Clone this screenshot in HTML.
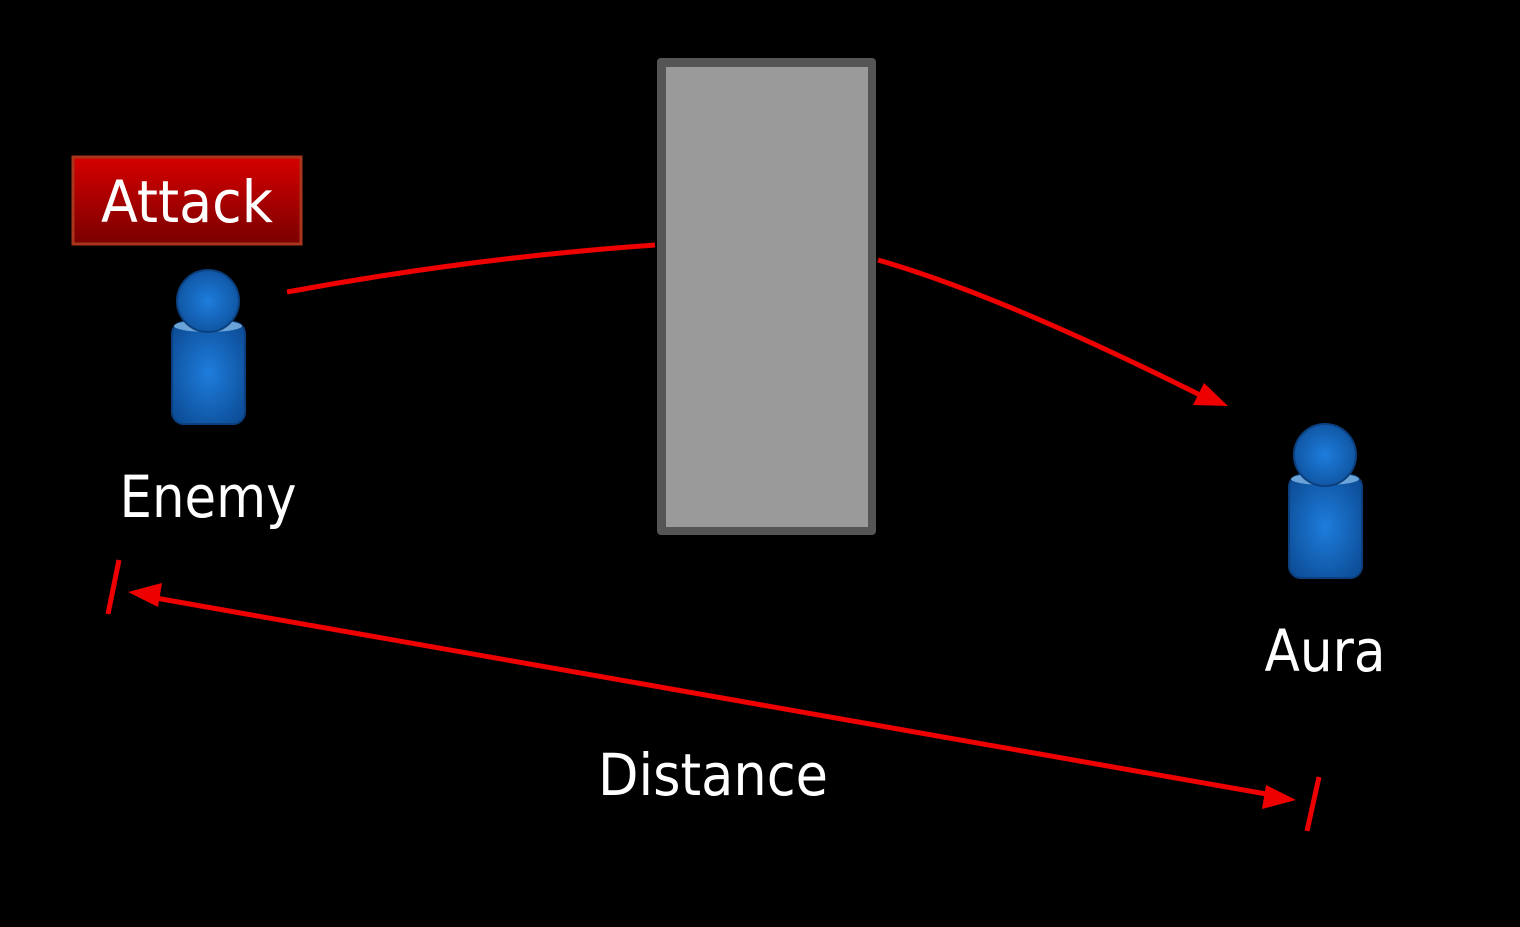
<!DOCTYPE html>
<html><head><meta charset="utf-8"><style>
html,body{margin:0;padding:0;background:#000;}
svg{display:block;}
text{font-family:"DejaVu Sans","Liberation Sans",sans-serif;fill:#fff;}
</style></head><body>
<svg width="1520" height="927" viewBox="0 0 1520 927">
<defs>
<radialGradient id="bl" cx="50%" cy="50%" r="60%"><stop offset="0" stop-color="#1e7ddc"/><stop offset="1" stop-color="#0d4f9a"/></radialGradient>
<linearGradient id="rd" x1="0" y1="0" x2="0" y2="1"><stop offset="0" stop-color="#d60000"/><stop offset="1" stop-color="#7a0000"/></linearGradient>
</defs>
<rect x="0" y="0" width="1520" height="927" fill="#000"/>
<g>
<rect x="73" y="157" width="228" height="87" fill="url(#rd)" stroke="#a8351c" stroke-width="3"/>
<text x="187" y="222" font-size="58" text-anchor="middle" textLength="172" lengthAdjust="spacingAndGlyphs">Attack</text>
</g>
<g>
<rect x="657" y="58" width="219" height="477" rx="4" fill="#555"/>
<rect x="666" y="67" width="202" height="460" fill="#9a9a9a"/>
</g>
<g>
<rect x="172" y="322" width="73" height="102" rx="12" fill="url(#bl)" stroke="#0b3f7e" stroke-width="2"/>
<ellipse cx="208" cy="326" rx="34" ry="6" fill="#6aa3d8"/>
<circle cx="208" cy="301" r="31" fill="url(#bl)" stroke="#0b3f7e" stroke-width="2"/>
</g>
<text x="208" y="517" font-size="58" text-anchor="middle" textLength="177" lengthAdjust="spacingAndGlyphs">Enemy</text>
<g>
<rect x="1289" y="475" width="73" height="103" rx="12" fill="url(#bl)" stroke="#0b3f7e" stroke-width="2"/>
<ellipse cx="1325" cy="479" rx="34" ry="6" fill="#6aa3d8"/>
<circle cx="1325" cy="455" r="31" fill="url(#bl)" stroke="#0b3f7e" stroke-width="2"/>
</g>
<text x="1325" y="671" font-size="58" text-anchor="middle" textLength="121" lengthAdjust="spacingAndGlyphs">Aura</text>
<g stroke="#ee0000" stroke-width="5" fill="none">
<path d="M287 292 Q470 258 655 245"/>
<path d="M878 260 Q1000 295 1200 395"/>
</g>
<polygon points="1228,406 1193,405 1204,383" fill="#ee0000"/>
<g>
<line x1="150" y1="597" x2="1272" y2="795" stroke="#ee0000" stroke-width="5"/>
<polygon points="128,592 162,583 158,607" fill="#ee0000"/>
<polygon points="1296,800 1262,809 1266,785" fill="#ee0000"/>
<line x1="119" y1="560" x2="108" y2="614" stroke="#ee0000" stroke-width="5"/>
<line x1="1319" y1="777" x2="1307" y2="831" stroke="#ee0000" stroke-width="5"/>
</g>
<text x="713" y="795" font-size="58" text-anchor="middle" textLength="230" lengthAdjust="spacingAndGlyphs">Distance</text>
</svg>
</body></html>
